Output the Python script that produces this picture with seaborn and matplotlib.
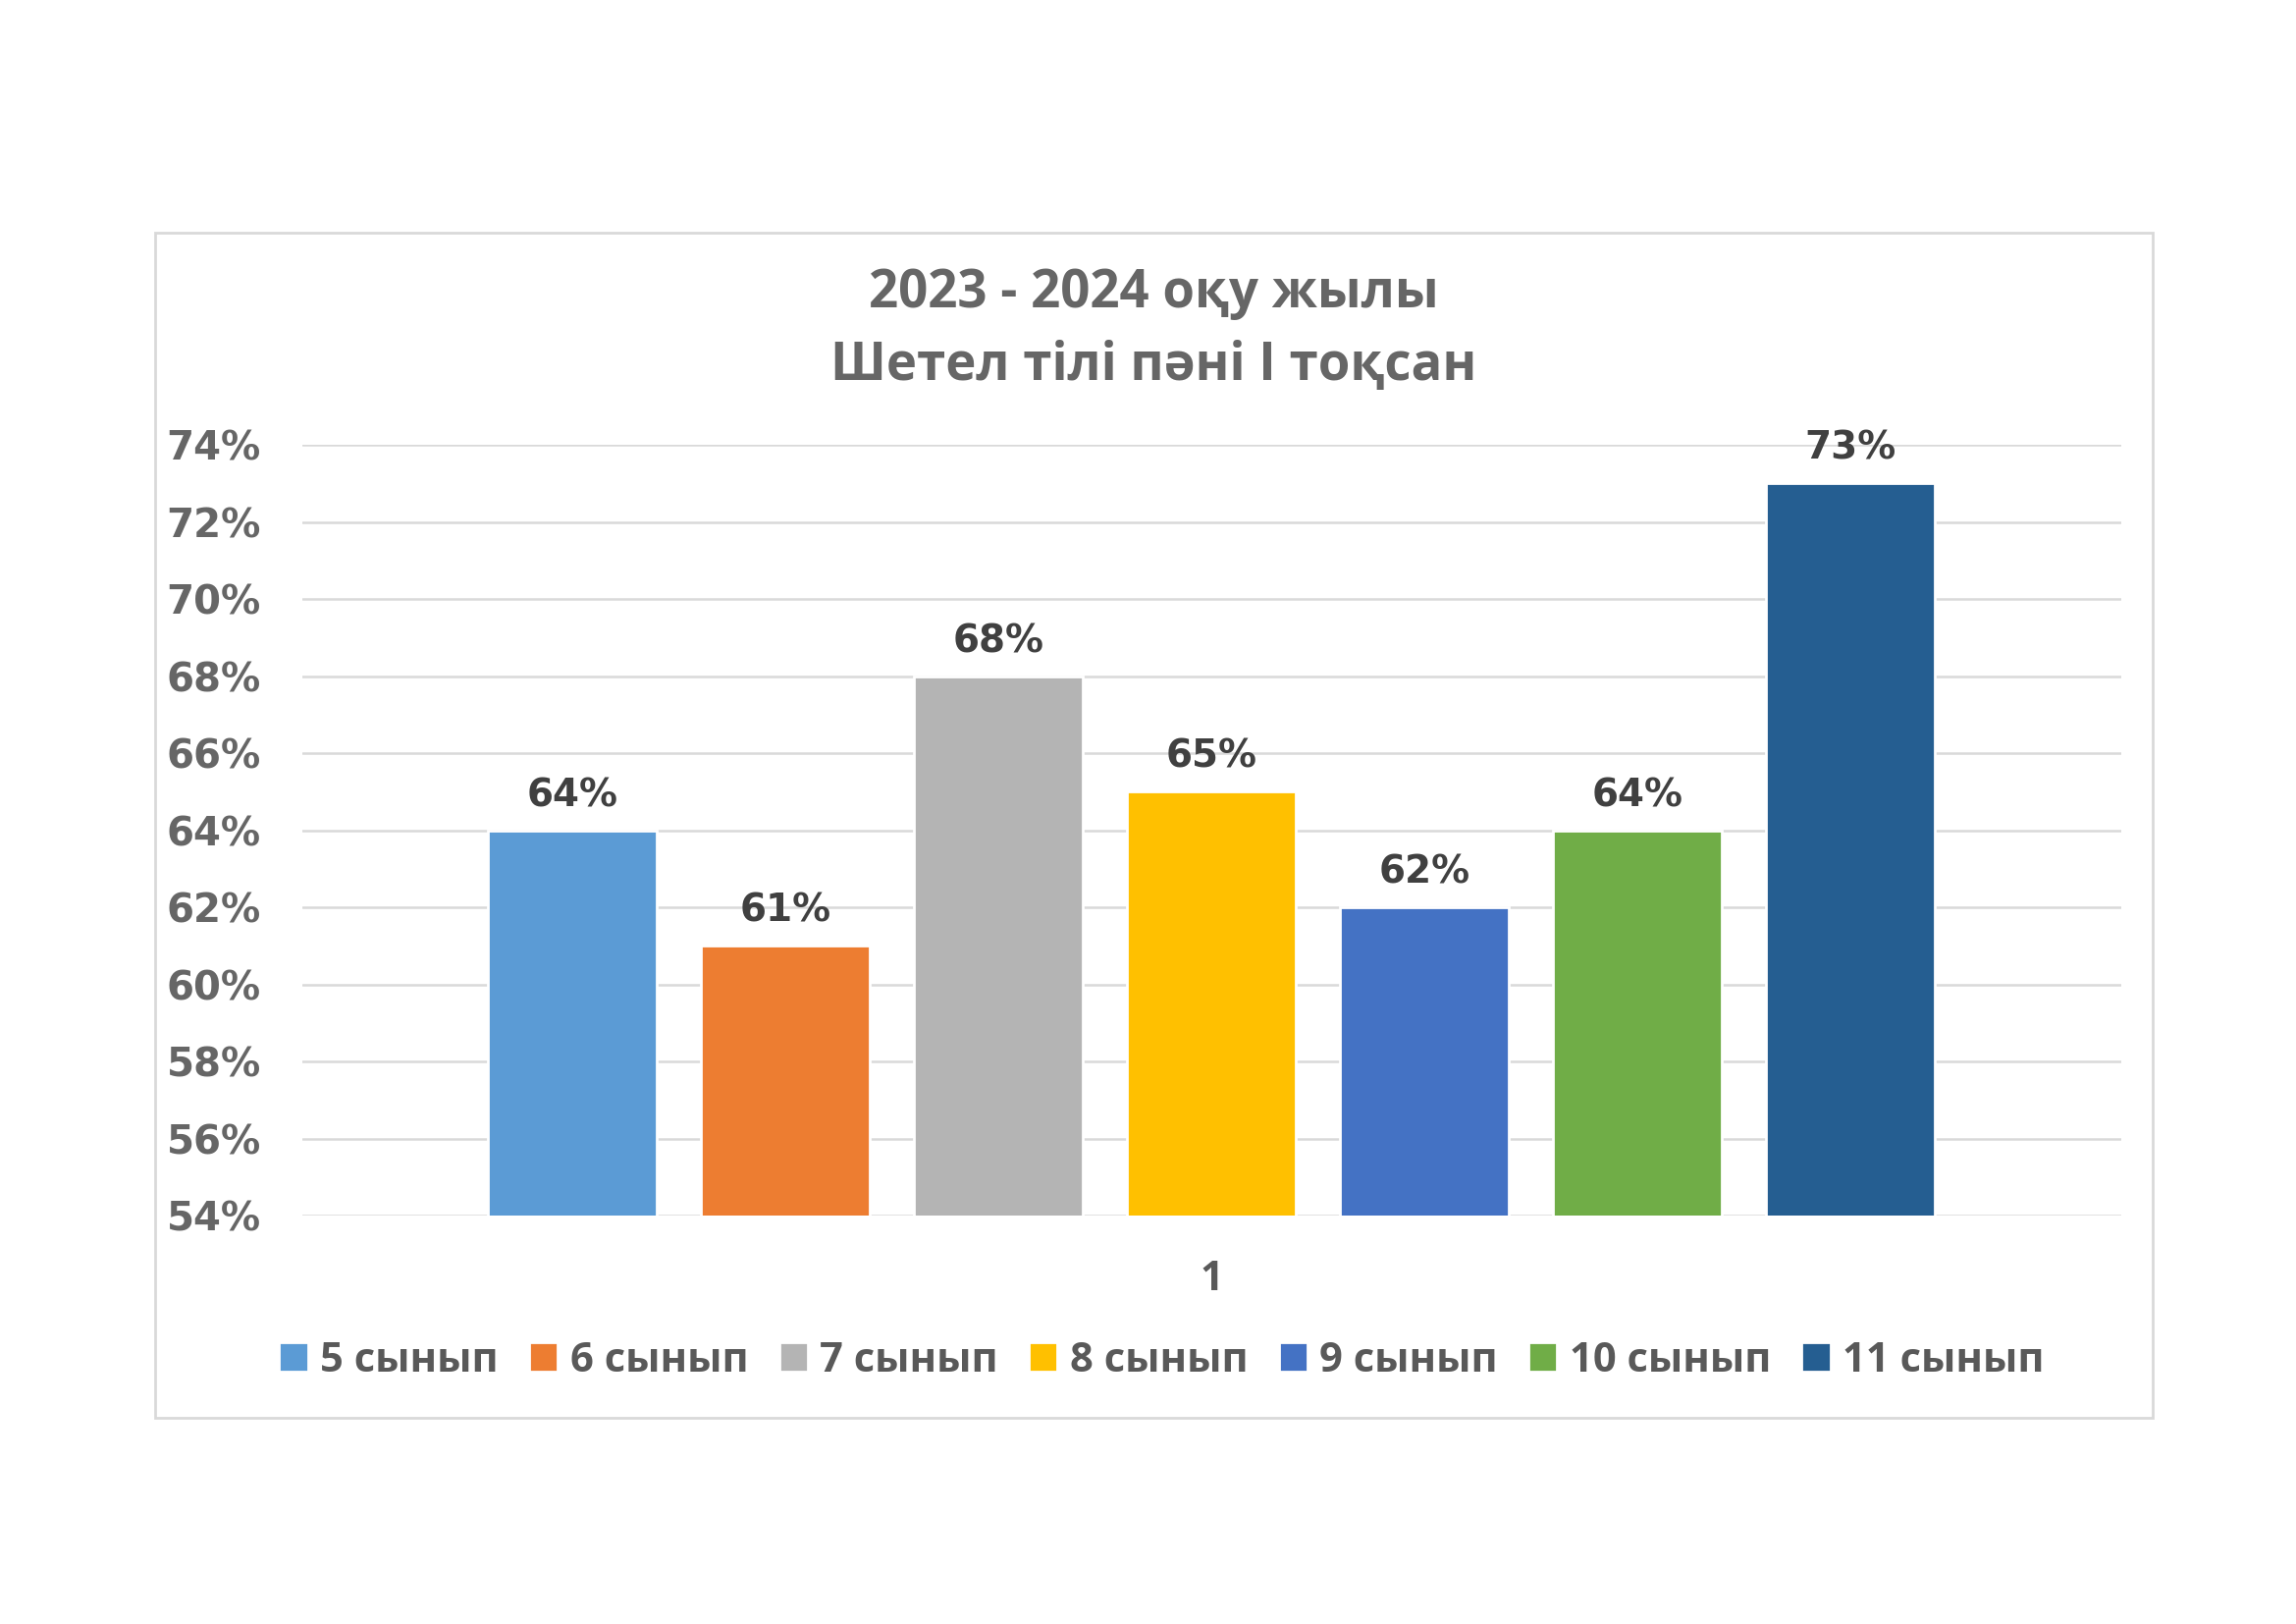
import pandas as pd
import seaborn as sns
import matplotlib.pyplot as plt
from matplotlib.patches import Rectangle
from matplotlib.ticker import FuncFormatter, MultipleLocator

# Chart data
categories = ["1"]
classes = ["5 сынып", "6 сынып", "7 сынып", "8 сынып", "9 сынып", "10 сынып", "11 сынып"]
values = [0.64, 0.61, 0.68, 0.65, 0.62, 0.64, 0.73]
colors = ["#5B9BD5", "#ED7D31", "#B4B4B4", "#FFC000", "#4472C4", "#70AD47", "#255E91"]
title_lines = ["2023 - 2024 оқу жылы", "Шетел тілі пәні І тоқсан"]

df = pd.DataFrame({"cat": categories * len(classes), "cls": classes, "val": values})

sns.set_theme(style="white")
plt.rcParams["font.family"] = ["DejaVu Sans"]

fig = plt.figure(figsize=(2339 / 200, 1654 / 200), dpi=200)
ax = fig.add_axes([0.1315, 0.2514, 0.7922, 0.4746])

sns.barplot(data=df, x="cat", y="val", hue="cls", hue_order=classes,
            palette=colors, width=0.82, gap=0.21, saturation=1, ax=ax,
            errorbar=None, legend=True)

ax.set_ylim(0.54, 0.74)
ax.set_xlim(-0.5, 0.5)
ax.yaxis.set_major_locator(MultipleLocator(0.02))
ax.yaxis.set_major_formatter(FuncFormatter(lambda v, p: f"{v * 100:.0f}%"))
ax.grid(axis="y", color="#d9d9d9", linewidth=0.9)
ax.set_axisbelow(True)
for s in ax.spines.values():
    s.set_visible(False)
ax.tick_params(axis="y", length=0, pad=15, labelsize=14.5, labelcolor="#666666")
ax.tick_params(axis="x", length=0, pad=16, labelsize=15, labelcolor="#595959")
for lbl in ax.get_yticklabels():
    lbl.set_fontweight("bold")
for lbl in ax.get_xticklabels():
    lbl.set_fontweight("bold")
    lbl.set_family("Open Sans")
ax.set_xlabel("")
ax.set_ylabel("")

# data labels
for cont in ax.containers:
    ax.bar_label(cont, labels=[f"{b.get_height() * 100:.0f}%" for b in cont],
                 padding=6, fontsize=14, fontweight="bold", color="#404040")

handles, labels = ax.get_legend_handles_labels()
ax.get_legend().remove()
fig.legend(handles, labels, loc="center", bbox_to_anchor=(0.506, 0.162), ncol=7,
           frameon=False, handlelength=0.7, handleheight=0.7, handletextpad=0.3,
           columnspacing=0.75, prop={"family": "Open Sans", "weight": "bold", "size": 15},
           labelcolor="#595959")

fig.text(0.5025, 0.797, title_lines[0] + "\n" + title_lines[1], ha="center", va="center",
         fontsize=19, fontweight="bold", color="#666666", family="Open Sans",
         linespacing=1.5)

# chart frame
fig.patches.append(Rectangle((105 / 1559, 1 - 962 / 1102), (1462 - 105) / 1559, (962 - 158) / 1102,
                             transform=fig.transFigure, fill=False, edgecolor="#d9d9d9",
                             linewidth=1.0))

fig.savefig("out.png", dpi=200, facecolor="white")
